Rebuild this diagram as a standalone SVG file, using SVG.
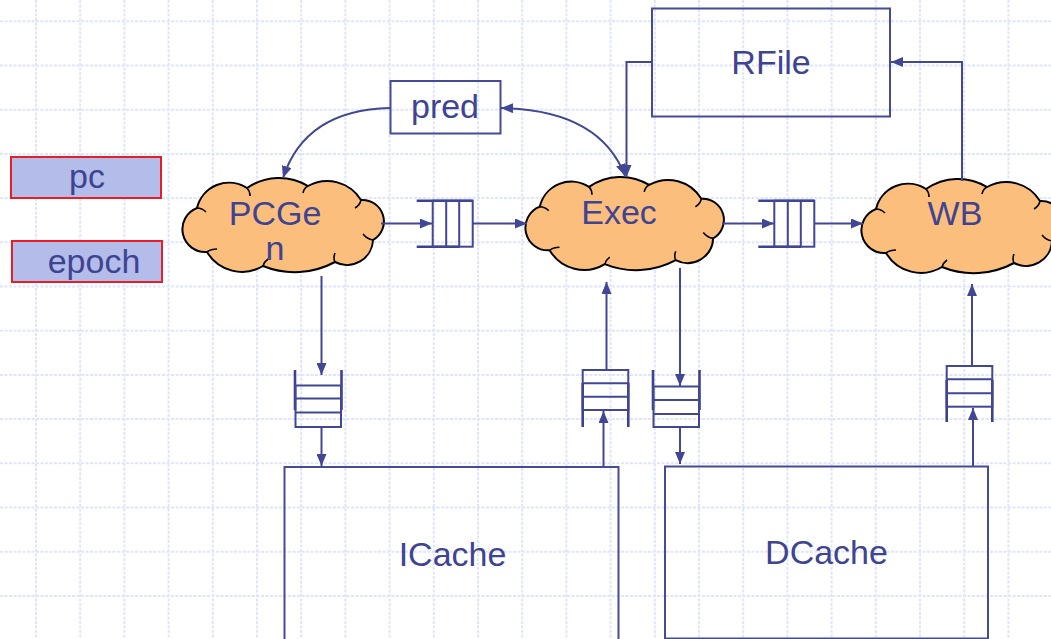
<svg xmlns="http://www.w3.org/2000/svg" width="1051" height="639" viewBox="0 0 1051 639">
<style>
.grid{fill:none;stroke:#dfe5fa;stroke-width:2;stroke-dasharray:3 1.5}
.ln{fill:none;stroke:#414794;stroke-width:2}
.box{fill:none;stroke:#454b96;stroke-width:2}
.fifo{fill:none;stroke:#414794;stroke-width:2}
.chan{fill:none;stroke:#3c4291;stroke-width:2.6}
.cloud{fill:#fbbe7d;stroke:#000;stroke-width:2}
.tick{fill:none;stroke:#000;stroke-width:1.6}
.reg{fill:#b4bce9;stroke:#ec1c24;stroke-width:2}
text{font-family:"Liberation Sans",Arial,sans-serif;font-size:34px;fill:#3e4491;text-anchor:middle}
</style>
<defs>
<marker id="ah" viewBox="0 0 12 10" refX="12" refY="5" markerWidth="12" markerHeight="10" markerUnits="userSpaceOnUse" orient="auto-start-reverse">
<path d="M0,0 L12,5 L0,10 z" fill="#414794"/>
</marker>
<g id="cloudShape">
<path class="cloud" d="M14,30 A32.9,32.9 0 0 1 64,10 A56,56 0 0 1 125,8 A39.6,39.6 0 0 1 178,22 A21.4,21.4 0 0 1 190,62 A26,26 0 0 1 152,84 A85,85 0 0 1 80,88 A40.7,40.7 0 0 1 24,74 A22.8,22.8 0 0 1 14,30 Z"/>
<path class="tick" d="M64,10 q3,3 3,8 M125,8 q-4,2 -5,7 M178,22 q-1,5 -6,8 M190,62 q-6,-1 -10,-6 M152,84 q-2,-4 0,-9 M80,88 q1,-4 5,-7 M24,74 q4,-3 10,-3 M14,30 q5,0 9,4"/>
</g>
</defs>
<rect x="0" y="0" width="1051" height="639" fill="#fff"/>
<path class="grid" d="M36,0V639M80.2,0V639M124.4,0V639M168.6,0V639M212.8,0V639M257,0V639M301.2,0V639M345.4,0V639M389.6,0V639M433.8,0V639M478,0V639M522.2,0V639M566.4,0V639M610.6,0V639M654.8,0V639M699,0V639M743.2,0V639M787.4,0V639M831.6,0V639M875.8,0V639M920,0V639M964.2,0V639M1008.4,0V639M0,21.3H1051M0,65.5H1051M0,109.7H1051M0,153.9H1051M0,198.1H1051M0,242.3H1051M0,286.5H1051M0,330.7H1051M0,374.9H1051M0,419.1H1051M0,463.3H1051M0,507.5H1051M0,551.7H1051M0,595.9H1051"/>

<g id="pc"><rect class="reg" x="11" y="157" width="150" height="41"/><text x="87" y="188">pc</text></g>
<g id="epoch"><rect class="reg" x="12" y="241" width="150" height="41"/><text x="94" y="273">epoch</text></g>

<g id="pred"><rect class="box" x="390.5" y="81" width="110" height="52.5"/><text x="445" y="118">pred</text></g>
<g id="RFile"><rect class="box" x="652" y="8.5" width="238" height="108"/><text x="771" y="74">RFile</text></g>
<g id="ICache"><rect class="box" x="284.5" y="467" width="334" height="180"/><text x="452.5" y="566">ICache</text></g>
<g id="DCache"><rect class="box" x="665" y="466.5" width="323" height="172"/><text x="826.5" y="564">DCache</text></g>

<g id="PCGen"><use href="#cloudShape" transform="translate(183,178)"/><text x="275" y="225">PCGe</text><text x="275" y="260">n</text></g>
<g id="Exec"><use href="#cloudShape" transform="translate(526,177) scale(0.985,0.99)"/><text x="619" y="224">Exec</text></g>
<g id="WB"><use href="#cloudShape" transform="translate(862,179)"/><text x="955" y="225">WB</text></g>

<g id="fifo1" transform="translate(416.7,200.7)"><path class="chan" d="M0,0H56M0,46H43"/><rect class="fifo" x="16" y="0" width="40" height="46"/><path class="fifo" d="M29.5,0V46M42.5,0V46"/></g>
<g id="fifo2" transform="translate(758.3,200.7)"><path class="chan" d="M0,0H56M0,46H43"/><rect class="fifo" x="16" y="0" width="40" height="46"/><path class="fifo" d="M29.5,0V46M42.5,0V46"/></g>
<g id="fifo3" transform="translate(295,370)"><path class="chan" d="M0,0V40M46.5,0V40"/><rect class="fifo" x="0.5" y="15.5" width="45.5" height="41.5"/><path class="fifo" d="M0.5,28.5H46M0.5,42.5H46"/></g>
<g id="fifo4" transform="translate(582.7,370)"><path class="chan" d="M0,13V57M45.6,13V57"/><rect class="fifo" x="0" y="0" width="45.6" height="40"/><path class="fifo" d="M0,13.3H45.6M0,26.7H45.6"/></g>
<g id="fifo5" transform="translate(653,370)"><path class="chan" d="M0,0V40M46.5,0V40"/><rect class="fifo" x="0.5" y="16.5" width="45.5" height="40.5"/><path class="fifo" d="M0.5,30H46M0.5,44H46"/></g>
<g id="fifo6" transform="translate(946.7,366)"><path class="chan" d="M0,14V56M45.6,14V56"/><rect class="fifo" x="0" y="0" width="45.6" height="40.7"/><path class="fifo" d="M0,13.3H45.6M0,27.3H45.6"/></g>

<g id="connectors">
<path class="ln" d="M381,223.5H432" marker-end="url(#ah)"/>
<path class="ln" d="M473,223.5H527" marker-end="url(#ah)"/>
<path class="ln" d="M722,223.5H774" marker-end="url(#ah)"/>
<path class="ln" d="M815,223.5H863" marker-end="url(#ah)"/>
<path class="ln" d="M321.5,276V375" marker-end="url(#ah)"/>
<path class="ln" d="M321.5,427V466" marker-end="url(#ah)"/>
<path class="ln" d="M603.5,466V411" marker-end="url(#ah)"/>
<path class="ln" d="M606.5,370V282" marker-end="url(#ah)"/>
<path class="ln" d="M680,268V386" marker-end="url(#ah)"/>
<path class="ln" d="M680,427V464" marker-end="url(#ah)"/>
<path class="ln" d="M973,466V408" marker-end="url(#ah)"/>
<path class="ln" d="M972,366V284" marker-end="url(#ah)"/>
<path class="ln" d="M652,62H626.5V177" marker-end="url(#ah)"/>
<path class="ln" d="M962,181V62H891" marker-end="url(#ah)"/>
<path class="ln" d="M501,108Q600,110 625,176" marker-start="url(#ah)" marker-end="url(#ah)"/>
<path class="ln" d="M390,108Q305,110 283,178" marker-end="url(#ah)"/>
</g>
</svg>
